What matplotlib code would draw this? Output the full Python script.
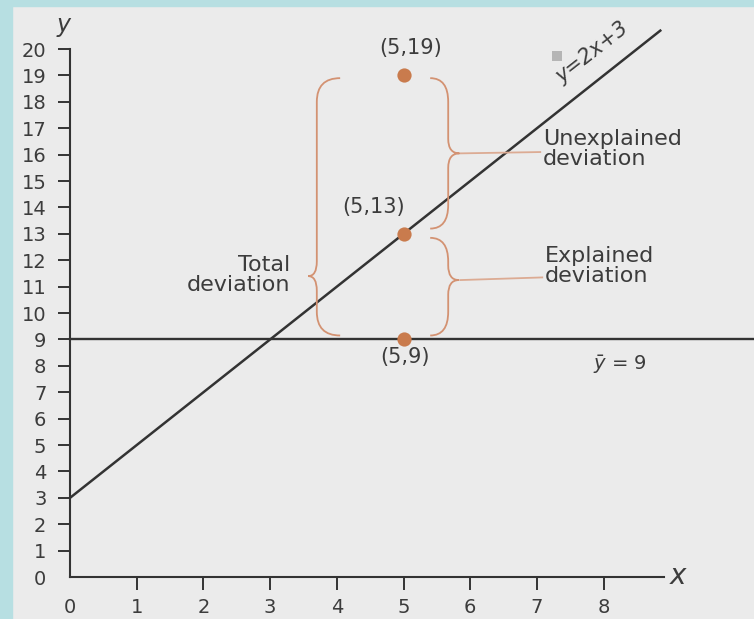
import matplotlib
matplotlib.use("Agg")
import matplotlib.pyplot as plt
import numpy as np
from matplotlib.path import Path
from matplotlib.patches import PathPatch, Rectangle

# data
point_x = [5, 5, 5]
point_y = [19, 13, 9]
point_labels = ["(5,19)", "(5,13)", "(5,9)"]
slope, intercept = 2, 3
line_x = [0, 8.85]
y_mean = 9
xticks = [0, 1, 2, 3, 4, 5, 6, 7, 8]
yticks = list(range(0, 21))

ink = "#333333"
txt = "#3c3c3c"
dot_col = "#c97b4d"
brace_col = "#d39272"
lead_col = "#dcab93"

plt.rcParams['font.family'] = ['DejaVu Sans']

fig = plt.figure(figsize=(7.54, 6.19), dpi=100)
fig.patch.set_facecolor("#ebebeb")
# blue scan border (left and top)
fig.patches.append(Rectangle((0, 0), 12 / 754, 1, transform=fig.transFigure,
                             color="#b7dfe2", zorder=0))
fig.patches.append(Rectangle((0, 1 - 6 / 619), 1, 6 / 619, transform=fig.transFigure,
                             color="#b7dfe2", zorder=0))

ax = fig.add_axes([12 / 754, 0, 1 - 12 / 754, 1 - 6 / 619])
ax.set_facecolor("#ebebeb")
x0 = -1.05 + 12 / 66.7
ax.set_xlim(x0, 10.255)
ax.set_ylim(-1.59, 21.86 - 6 / 26.4)

for s in ["top", "right"]:
    ax.spines[s].set_visible(False)
ax.spines["left"].set_position(("data", 0))
ax.spines["bottom"].set_position(("data", 0))
ax.spines["left"].set_bounds(0, 20)
ax.spines["bottom"].set_bounds(0, 8.9)
for s in ["left", "bottom"]:
    ax.spines[s].set_color(ink)
    ax.spines[s].set_linewidth(1.5)

ax.set_xticks(xticks)
ax.set_yticks(yticks)
ax.set_xticklabels([str(v) for v in xticks])
ax.set_yticklabels([str(v) for v in yticks])
ax.tick_params(axis="y", direction="out", length=9, width=1.4, color=ink,
               labelsize=14, labelcolor=txt, pad=8)
ax.tick_params(axis="x", direction="out", length=9, width=1.4, color=ink,
               labelsize=14, labelcolor=txt, pad=6)
ax.xaxis.get_major_ticks()[0].tick1line.set_visible(False)
ax.yaxis.get_major_ticks()[0].tick1line.set_visible(False)

ax.text(-0.1, 20.9, "y", fontsize=17, color=txt, ha="center", va="center",
        style="italic")
ax.text(9.12, 0.05, "x", fontsize=20, color=txt, ha="center", va="center",
        style="italic")

# mean line and regression line
ax.plot([0, 10.4], [y_mean, y_mean], color=ink, lw=1.7, zorder=2)
lx = np.array(line_x)
ax.plot(lx, slope * lx + intercept, color=ink, lw=1.8, zorder=2)
ax.text(7.83, 19.85, "y=2x+3", fontsize=15, color=txt, rotation=38,
        ha="center", va="center", style="italic")
ax.add_patch(Rectangle((7.23, 19.55), 0.15, 0.38, color="#b5b5b5", lw=0))

ax.scatter(point_x, point_y, s=105, color=dot_col, zorder=4, lw=0)
ax.text(point_x[0] + 0.1, point_y[0] + 1.05, point_labels[0], fontsize=15,
        color=txt, ha="center", va="center")
ax.text(point_x[1] - 0.45, point_y[1] + 1.0, point_labels[1], fontsize=15,
        color=txt, ha="center", va="center")
ax.text(point_x[2] + 0.02, point_y[2] - 0.65, point_labels[2], fontsize=15,
        color=txt, ha="center", va="center")


def brace(x, ytop, ybot, ytip, hook, tip, r=0.9, rt=0.55):
    # vertical curly brace; hook / tip are signed x offsets from the spine
    verts = [(x + hook, ytop), (x, ytop), (x, ytop - r),
             (x, ytip + rt), (x, ytip), (x + tip, ytip),
             (x, ytip), (x, ytip - rt),
             (x, ybot + r), (x, ybot), (x + hook, ybot)]
    codes = [Path.MOVETO, Path.CURVE3, Path.CURVE3,
             Path.LINETO, Path.CURVE3, Path.CURVE3,
             Path.CURVE3, Path.CURVE3,
             Path.LINETO, Path.CURVE3, Path.CURVE3]
    ax.add_patch(PathPatch(Path(verts, codes), fill=False, ec=brace_col,
                           lw=1.3, zorder=3))


brace(3.70, point_y[0] - 0.1, point_y[2] + 0.15, 11.4, 0.35, -0.13)
brace(5.67, point_y[0] - 0.1, point_y[1] + 0.2, 16.05, -0.27, 0.17)
brace(5.67, point_y[1] - 0.15, point_y[2] + 0.15, 11.25, -0.27, 0.16)
ax.plot([5.86, 7.05], [16.05, 16.1], color=lead_col, lw=1.3)
ax.plot([5.85, 7.08], [11.25, 11.35], color=lead_col, lw=1.3)

ax.text(3.30, 11.45, "Total\ndeviation", fontsize=16, color=txt,
        ha="right", va="center", multialignment="right", linespacing=1.0)
ax.text(7.09, 16.2, "Unexplained\ndeviation", fontsize=16, color=txt,
        ha="left", va="center", linespacing=1.0)
ax.text(7.12, 11.8, "Explained\ndeviation", fontsize=16, color=txt,
        ha="left", va="center", linespacing=1.0)
ax.text(8.25, 8.05, r"$\bar{y}$ = 9", fontsize=14, color=txt,
        ha="center", va="center")

fig.savefig("out.png", dpi=100, facecolor=fig.get_facecolor())
